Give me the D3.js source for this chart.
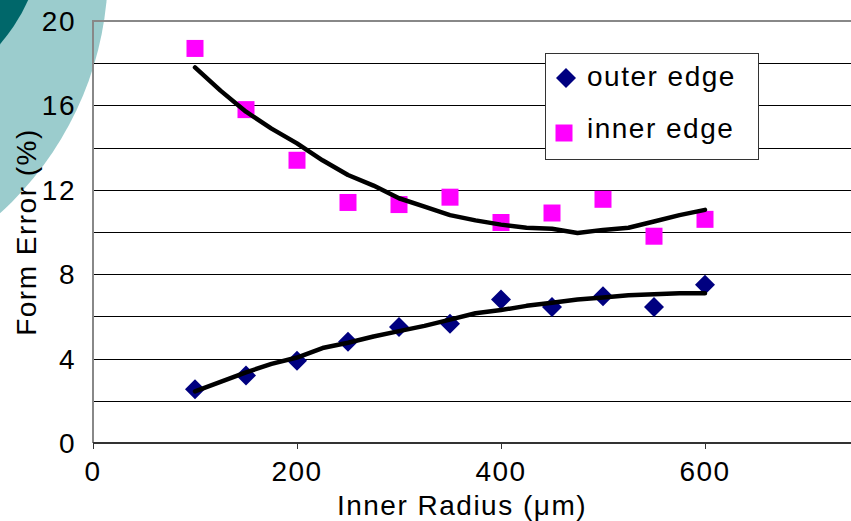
<!DOCTYPE html>
<html>
<head>
<meta charset="utf-8">
<script src="https://cdn.jsdelivr.net/npm/d3@7"></script>
<style>
  body { margin: 0; background: #fff; }
  svg text { font-family: "Liberation Sans", Arial, sans-serif; font-size: 28px; letter-spacing: 1.5px; fill: #000; }
</style>
</head>
<body>
<div id="chart"></div>
<script>
var w = 851;
var h = 521;

// data
var radius = [100, 150, 200, 250, 300, 350, 400, 450, 500, 550, 600];
var outerEdge = [2.55, 3.2, 3.9, 4.8, 5.5, 5.65, 6.8, 6.45, 6.95, 6.45, 7.5];
var innerEdge = [18.7, 15.8, 13.4, 11.4, 11.3, 11.65, 10.45, 10.9, 11.55, 9.8, 10.6];

// trend lines
var trendRadius = [100, 125, 150, 175, 200, 225, 250, 275, 300, 325, 350, 375, 400, 425, 450, 475, 500, 525, 550, 575, 600];
var outerTrend = [2.45, 2.9, 3.35, 3.75, 4.05, 4.5, 4.75, 5.05, 5.3, 5.55, 5.85, 6.15, 6.3, 6.5, 6.65, 6.8, 6.9, 7.0, 7.05, 7.1, 7.1];
var innerTrend = [17.8, 16.7, 15.7, 14.9, 14.2, 13.4, 12.7, 12.2, 11.6, 11.2, 10.8, 10.55, 10.35, 10.2, 10.15, 9.95, 10.1, 10.2, 10.5, 10.8, 11.05];

var yTicks = [0, 4, 8, 12, 16, 20];
var xTicks = [0, 200, 400, 600];
var seriesNames = ["outer edge", "inner edge"];

// note: "top" is taken by window.top, so use plot* names
var plotLeft = 93, plotTop = 21, plotBottom = 443;

var svg = d3.select("#chart")
    .append("svg")
    .attr("width", w)
    .attr("height", h);

// decorative teal circles in the corner
svg.append("circle")
    .attr("cx", -220).attr("cy", -30).attr("r", 328)
    .style("fill", "#9bcccd");
svg.append("circle")
    .attr("cx", -130).attr("cy", -70).attr("r", 173)
    .style("fill", "#00676a");

var x = d3.scaleLinear().domain([0, 800]).range([plotLeft, plotLeft + 816]);
var y = d3.scaleLinear().domain([0, 20]).range([plotBottom, plotTop]);

// gridlines every 2
svg.append("g")
    .attr("class", "grid")
    .selectAll("line")
    .data(d3.range(2, 20, 2))
    .enter().append("line")
    .attr("x1", plotLeft).attr("x2", w)
    .attr("y1", function(d) { return Math.round(y(d)) + 0.5; })
    .attr("y2", function(d) { return Math.round(y(d)) + 0.5; })
    .style("stroke", "#000")
    .style("stroke-width", 1);

// top border
svg.append("line")
    .attr("x1", plotLeft).attr("x2", w)
    .attr("y1", plotTop).attr("y2", plotTop)
    .style("stroke", "#888").style("stroke-width", 2);

// left axis line
svg.append("line")
    .attr("x1", plotLeft).attr("x2", plotLeft)
    .attr("y1", plotTop - 1).attr("y2", plotBottom)
    .style("stroke", "#888").style("stroke-width", 2);

// x axis
var xAxis = svg.append("g")
    .attr("class", "x-axis")
    .attr("transform", "translate(0," + plotBottom + ")")
    .call(d3.axisBottom(x).tickValues(xTicks).tickSize(6).tickFormat(""));
xAxis.select(".domain").attr("d", "M" + plotLeft + ",0H" + w).style("stroke", "#333").style("stroke-width", 2);
xAxis.selectAll(".tick line").style("stroke", "#333");

svg.append("g")
    .selectAll("text")
    .data(xTicks)
    .enter().append("text")
    .attr("x", function(d) { return x(d); })
    .attr("y", 481)
    .attr("text-anchor", "middle")
    .text(function(d) { return d; });

// y tick labels
svg.append("g")
    .selectAll("text")
    .data(yTicks)
    .enter().append("text")
    .attr("x", 76)
    .attr("y", function(d) { return y(d) + 10; })
    .attr("text-anchor", "end")
    .text(function(d) { return d; });

// axis titles
svg.append("text")
    .attr("x", 462)
    .attr("y", 515)
    .attr("text-anchor", "middle")
    .text("Inner Radius (\u03bcm)");

svg.append("text")
    .attr("transform", "translate(36,232) rotate(-90)")
    .attr("text-anchor", "middle")
    .text("Form Error (%)");

// markers
var diamond = d3.symbol().type(d3.symbolSquare).size(200);
var square = d3.symbol().type(d3.symbolSquare).size(289);

svg.append("g")
    .selectAll("path")
    .data(radius)
    .enter().append("path")
    .attr("d", diamond)
    .attr("transform", function(d, i) { return "translate(" + x(d) + "," + y(outerEdge[i]) + ") rotate(45)"; })
    .style("fill", "#000080");

svg.append("g")
    .selectAll("path")
    .data(radius)
    .enter().append("path")
    .attr("d", square)
    .attr("transform", function(d, i) { return "translate(" + x(d) + "," + y(innerEdge[i]) + ")"; })
    .style("fill", "#ff00ff");

// trend lines on top
var line = d3.line()
    .x(function(d) { return x(d[0]); })
    .y(function(d) { return y(d[1]); });

[outerTrend, innerTrend].forEach(function(vals) {
    svg.append("path")
        .datum(trendRadius.map(function(r, i) { return [r, vals[i]]; }))
        .attr("d", line)
        .style("fill", "none")
        .style("stroke", "#000")
        .style("stroke-width", 4.5)
        .style("stroke-linecap", "round")
        .style("stroke-linejoin", "round");
});

// legend
var legend = svg.append("g").attr("class", "legend");
legend.append("rect")
    .attr("x", 545.5).attr("y", 53.5)
    .attr("width", 213).attr("height", 106)
    .style("fill", "#fff")
    .style("stroke", "#333")
    .style("stroke-width", 1);

legend.append("path")
    .attr("d", diamond)
    .attr("transform", "translate(566,78) rotate(45)")
    .style("fill", "#000080");
legend.append("path")
    .attr("d", square)
    .attr("transform", "translate(564,133)")
    .style("fill", "#ff00ff");

legend.selectAll("text.name")
    .data(seriesNames)
    .enter().append("text")
    .attr("class", "name")
    .attr("x", 587)
    .attr("y", function(d, i) { return 86 + i * 52; })
    .text(function(d) { return d; });
</script>
</body>
</html>
